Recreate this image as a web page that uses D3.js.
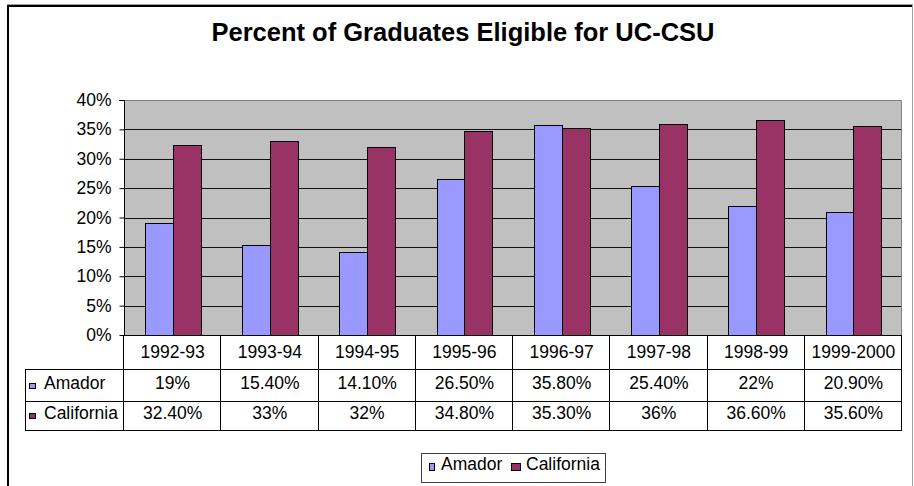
<!DOCTYPE html>
<html>
<head>
<meta charset="utf-8">
<script src="https://cdn.jsdelivr.net/npm/d3@7"></script>
<style>
  body { margin: 0; background: #fff; }
  svg { display: block; font-family: "Liberation Sans", Arial, sans-serif; }
</style>
</head>
<body>
<div id="chart"></div>
<script>
// chart data
const categories = ["1992-93", "1993-94", "1994-95", "1995-96", "1996-97", "1997-98", "1998-99", "1999-2000"];
const seriesNames = ["Amador", "California"];
const amador = [19, 15.4, 14.1, 26.5, 35.8, 25.4, 22, 20.9];
const california = [32.4, 33, 32, 34.8, 35.3, 36, 36.6, 35.6];
const amadorLabels = ["19%", "15.40%", "14.10%", "26.50%", "35.80%", "25.40%", "22%", "20.90%"];
const californiaLabels = ["32.40%", "33%", "32%", "34.80%", "35.30%", "36%", "36.60%", "35.60%"];
const yTicks = [0, 5, 10, 15, 20, 25, 30, 35, 40];

const colors = { Amador: "#9999FF", California: "#993366" };

const width = 914, height = 486;
const plot = { left: 124, right: 902, top: 100, bottom: 335 };
const rowBottoms = [369, 401, 430];
const tableLeft = 25;
const fontSize = "17.5px";

const svg = d3.select("#chart")
  .append("svg")
  .attr("width", width)
  .attr("height", height);

// outer chart frame (black top/left, grey right)
svg.append("line")
  .attr("x1", 7).attr("x2", 913).attr("y1", 4.5).attr("y2", 4.5)
  .attr("stroke", "#a0a0a0");
svg.append("line")
  .attr("x1", 7).attr("x2", 912).attr("y1", 6).attr("y2", 6)
  .attr("stroke", "#000").attr("stroke-width", 2);
svg.append("line")
  .attr("x1", 8).attr("x2", 8).attr("y1", 5).attr("y2", height)
  .attr("stroke", "#000").attr("stroke-width", 2);
svg.append("line")
  .attr("x1", 912.5).attr("x2", 912.5).attr("y1", 5).attr("y2", height)
  .attr("stroke", "#a0a0a0");

// title
svg.append("text")
  .attr("x", 463)
  .attr("y", 41)
  .attr("text-anchor", "middle")
  .style("font-size", "25.5px")
  .style("font-weight", "bold")
  .text("Percent of Graduates Eligible for UC-CSU");

const x = d3.scaleBand()
  .domain(categories)
  .range([plot.left, plot.right]);

const xInner = d3.scaleBand()
  .domain(seriesNames)
  .range([0, x.bandwidth()])
  .paddingInner(0)
  .paddingOuter(0.75);

const y = d3.scaleLinear()
  .domain([0, 40])
  .range([plot.bottom, plot.top]);

// plot background
svg.append("rect")
  .attr("x", plot.left).attr("y", plot.top)
  .attr("width", plot.right - plot.left)
  .attr("height", plot.bottom - plot.top)
  .attr("fill", "#C0C0C0");

// gridlines
svg.append("g")
  .selectAll("line")
  .data(yTicks.filter(d => d > 0 && d < 40))
  .enter()
  .append("line")
  .attr("x1", plot.left).attr("x2", plot.right)
  .attr("y1", d => Math.round(y(d)) + 0.5)
  .attr("y2", d => Math.round(y(d)) + 0.5)
  .attr("stroke", "#111");

// top and right border of plot area
svg.append("path")
  .attr("d", `M${plot.left},${plot.top + 0.5}H${plot.right - 0.5}V${plot.bottom}`)
  .attr("fill", "none")
  .attr("stroke", "#808080");

// bars
const series = [
  { name: "Amador", values: amador },
  { name: "California", values: california }
];

const groups = svg.append("g")
  .selectAll("g")
  .data(series)
  .enter()
  .append("g")
  .attr("fill", d => colors[d.name]);

groups.selectAll("rect")
  .data(s => s.values.map((v, i) => ({ name: s.name, cat: categories[i], value: v })))
  .enter()
  .append("rect")
  .attr("x", d => Math.round(x(d.cat) + xInner(d.name)) + 0.5)
  .attr("y", d => Math.round(y(d.value)) + 0.5)
  .attr("width", Math.round(xInner.bandwidth()))
  .attr("height", d => Math.round(y(0)) - Math.round(y(d.value)))
  .attr("stroke", "#000")
  .attr("stroke-width", 1);

// y axis
const yAxis = svg.append("g")
  .attr("transform", `translate(${plot.left + 0.5},0)`)
  .call(d3.axisLeft(y)
    .tickValues(yTicks)
    .tickSize(5)
    .tickPadding(8)
    .tickFormat(d => d + "%"));
yAxis.selectAll("text")
  .style("font-size", fontSize)
  .style("font-family", "Liberation Sans, Arial, sans-serif")
  .attr("fill", "#000");
yAxis.selectAll("line, path").attr("stroke", "#000");
yAxis.select(".domain").attr("d", `M-5,${plot.top + 0.5}H0V${plot.bottom}`);

// data table
const table = svg.append("g")
  .attr("stroke", "#000")
  .attr("stroke-width", 1);

table.append("line")
  .attr("x1", plot.left).attr("x2", plot.right)
  .attr("y1", plot.bottom + 0.5).attr("y2", plot.bottom + 0.5);

table.selectAll(".hline")
  .data(rowBottoms)
  .enter()
  .append("line")
  .attr("class", "hline")
  .attr("x1", tableLeft).attr("x2", plot.right)
  .attr("y1", d => d + 0.5).attr("y2", d => d + 0.5);

const colEdges = categories.map(c => x(c)).concat([plot.right]);
table.selectAll(".vline")
  .data(colEdges)
  .enter()
  .append("line")
  .attr("class", "vline")
  .attr("x1", d => Math.round(d) - 0.5).attr("x2", d => Math.round(d) - 0.5)
  .attr("y1", plot.bottom).attr("y2", rowBottoms[2] + 1);

table.append("line")
  .attr("x1", tableLeft + 0.5).attr("x2", tableLeft + 0.5)
  .attr("y1", rowBottoms[0]).attr("y2", rowBottoms[2] + 1);

const cellText = svg.append("g")
  .style("font-size", fontSize)
  .attr("text-anchor", "middle");

cellText.selectAll(".cat")
  .data(categories)
  .enter()
  .append("text")
  .attr("x", d => x(d) + x.bandwidth() / 2)
  .attr("y", 358)
  .text(d => d);

const rows = [
  { name: "Amador", labels: amadorLabels, yText: 389, yKey: 383 },
  { name: "California", labels: californiaLabels, yText: 419, yKey: 413 }
];

rows.forEach(r => {
  cellText.selectAll(null)
    .data(r.labels)
    .enter()
    .append("text")
    .attr("x", (d, i) => x(categories[i]) + x.bandwidth() / 2)
    .attr("y", r.yText)
    .text(d => d);

  svg.append("rect")
    .attr("x", 29.5).attr("y", r.yKey + 0.5)
    .attr("width", 6).attr("height", 5)
    .attr("fill", colors[r.name])
    .attr("stroke", "#000");

  svg.append("text")
    .attr("x", 44)
    .attr("y", r.yText)
    .style("font-size", fontSize)
    .text(r.name);
});

// legend
const legend = svg.append("g");
legend.append("rect")
  .attr("x", 421.5).attr("y", 453.5)
  .attr("width", 184).attr("height", 29)
  .attr("fill", "#fff")
  .attr("stroke", "#404040");

const legendItems = [
  { name: "Amador", keyX: 429, keyW: 5, textX: 441 },
  { name: "California", keyX: 511, keyW: 9, textX: 526 }
];
legendItems.forEach(item => {
  legend.append("rect")
    .attr("x", item.keyX + 0.5).attr("y", 463.5)
    .attr("width", item.keyW).attr("height", 7)
    .attr("fill", colors[item.name])
    .attr("stroke", "#000");
  legend.append("text")
    .attr("x", item.textX)
    .attr("y", 470)
    .style("font-size", fontSize)
    .text(item.name);
});
</script>
</body>
</html>
